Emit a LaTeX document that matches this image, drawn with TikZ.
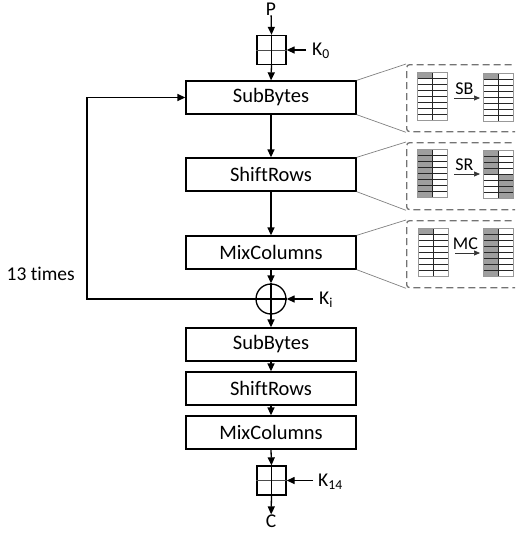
\documentclass[tikz,border=0pt]{standalone}
\usepackage{fontspec}
\setmainfont{Carlito}[Ligatures=NoCommon]
\usetikzlibrary{arrows.meta,calc}
\newcommand{\aesgrid}[2]{%
  \foreach \r in {1,...,7} {\draw[tline] (#1,#2+6*\r) -- (#1+30,#2+6*\r);}
  \draw[tline] (#1+15,#2) -- (#1+15,#2+48);
  \draw[tborder] (#1,#2) rectangle (#1+30,#2+48);}
\newcommand{\aescell}[4]{\fill[tfill] (#1+15*#3,#2+6*#4) rectangle ++(15,6);}
\begin{document}
\begin{tikzpicture}[x=1pt,y=-1pt,
  stage/.style={draw,line width=1.3pt,minimum width=170pt,minimum height=33pt,inner sep=0pt,font=\fontsize{20.5}{20.5}\selectfont},
  keysq/.style={draw,line width=1.3pt,minimum width=29pt,minimum height=29pt,inner sep=0pt},
  xorc/.style={draw,circle,line width=1.3pt,minimum size=30pt,inner sep=0pt},
  lbl/.style={font=\fontsize{19.5}{19.5}\selectfont,inner sep=0pt},
  slbl/.style={font=\fontsize{18}{18}\selectfont,inner sep=0pt},
  flow/.style={line width=1.3pt,-{Triangle[length=8pt,width=7pt]}},
  sflow/.style={line width=0.7pt,draw=black!80,-{Triangle[length=6pt,width=5pt]}},
  zoomb/.style={draw=black!55,dash pattern=on 7pt off 4pt,line width=1.3pt,rounded corners=3pt,minimum width=130pt,minimum height=67pt,inner sep=0pt},
  zl/.style={draw=black!50,line width=0.7pt},
  tline/.style={draw=black!85,line width=0.6pt},
  tborder/.style={draw=black!40,line width=0.8pt},
  tfill/.style={fill=black!38},
  tbl/.style={minimum width=30pt,minimum height=48pt,inner sep=0pt},
]
\useasboundingbox (0,0) rectangle (515,533);
% main column
\node[lbl] (p) at (271,9) {P};
\node[keysq] (k0) at (271.5,50) {};
\node[stage] (sb1) at (271,97.5) {SubBytes};
\node[stage] (sr1) at (271,174.5) {ShiftRows};
\node[stage] (mc1) at (271,252.5) {MixColumns};
\node[xorc] (xor) at (271,299) {};
\node[stage] (sb2) at (271,344.5) {SubBytes};
\node[stage] (sr2) at (271,388.5) {ShiftRows};
\node[stage] (mc2) at (271,432.5) {MixColumns};
\node[keysq] (k14) at (271.5,480.5) {};
\node[lbl] (c) at (271,521) {C};
% cross lines
\draw[line width=0.6pt,black!70] (k0.west) -- (k0.east);
\draw[line width=1.3pt] (k0.north) -- (k0.south);
\draw[line width=0.6pt,black!70] (k14.west) -- (k14.east);
\draw[line width=1.3pt] (k14.north) -- (k14.south);
\draw[line width=1.3pt] (xor.north) -- (xor.south);
\draw[line width=1.3pt] (xor.west) -- (xor.east);
% flow arrows
\draw[flow] (p) -- (k0.north);
\draw[flow] (k0.south) -- (sb1.north);
\draw[flow] (sb1.south) -- (sr1.north);
\draw[flow] (sr1.south) -- (mc1.north);
\draw[flow] (mc1.south) -- (xor.north);
\draw[flow] (xor.south) -- (sb2.north);
\draw[flow] (sb2.south) -- (sr2.north);
\draw[flow] (sr2.south) -- (mc2.north);
\draw[flow] (mc2.south) -- (k14.north);
\draw[flow] (k14.south) -- (c);
% loop
\coordinate (loopc) at (87,299);
\draw[flow] (xor.west) -- (loopc) |- (sb1.west);
\node[lbl,anchor=east] (times) at (75,274) {13 times};
% keys
\coordinate (k0s) at (306,50);
\coordinate (kis) at (313,299);
\coordinate (k14s) at (313,480.5);
\draw[flow] (k0s) -- (k0.east);
\draw[flow] (kis) -- (xor.east);
\draw[flow] (k14s) -- (k14.east);
\node[lbl,anchor=west] (k0l) at ($(k0s)+(6,1)$) {K\textsubscript{0}};
\node[lbl,anchor=west] (kil) at ($(kis)+(6,1)$) {K\textsubscript{i}};
\node[lbl,anchor=west] (k14l) at ($(k14s)+(5,1)$) {K\textsubscript{14}};
% zoom boxes
\begin{scope}
\clip (0,0) rectangle (515,533);
\node[zoomb,anchor=north west] (zb1) at (406,64) {};
\node[zoomb,anchor=north west] (zb2) at (406,142) {};
\node[zoomb,anchor=north west] (zb3) at (406,220) {};
\end{scope}
\draw[zl] (sb1.north east) -- (zb1.north west);
\draw[zl] (sb1.south east) -- (zb1.south west);
\draw[zl] (sr1.north east) -- (zb2.north west);
\draw[zl] (sr1.south east) -- (zb2.south west);
\draw[zl] (mc1.north east) -- (zb3.north west);
\draw[zl] (mc1.south east) -- (zb3.south west);
% tables SB
\node[tbl,anchor=north west] (sbL) at (417,72) {};
\node[tbl,anchor=north west] (sbR) at (483,73) {};
\aescell{417}{72}{0}{0}
\aescell{483}{73}{0}{0}
\aesgrid{417}{72}
\aesgrid{483}{73}
\draw[sflow] ($(sbL.north east)+(7,26)$) -- ($(sbR.north west)+(-3,25)$);
\node[slbl,anchor=south] (sbt) at ($(sbL.north east)+(17,23)$) {SB};
% tables SR
\node[tbl,anchor=north west] (srL) at (417,149) {};
\node[tbl,anchor=north west] (srR) at (483,150) {};
\foreach \r in {0,...,7} {\aescell{417}{149}{0}{\r}}
\foreach \r in {0,...,3} {\aescell{483}{150}{0}{\r}}
\foreach \r in {4,...,7} {\aescell{483}{150}{1}{\r}}
\aesgrid{417}{149}
\aesgrid{483}{150}
\draw[sflow] ($(srL.north east)+(7,25)$) -- ($(srR.north west)+(-3,24)$);
\node[slbl,anchor=south] (srt) at ($(srL.north east)+(17,22)$) {SR};
% tables MC
\node[tbl,anchor=north west] (mcL) at (418,228) {};
\node[tbl,anchor=north west] (mcR) at (483,228) {};
\aescell{418}{228}{0}{0}
\foreach \r in {0,...,7} {\aescell{483}{228}{0}{\r}}
\aesgrid{418}{228}
\aesgrid{483}{228}
\draw[sflow] ($(mcL.north east)+(7,25)$) -- ($(mcR.north west)+(-3,25)$);
\node[slbl,anchor=south] (mct) at ($(mcL.north east)+(17,22)$) {MC};
\end{tikzpicture}
\end{document}
